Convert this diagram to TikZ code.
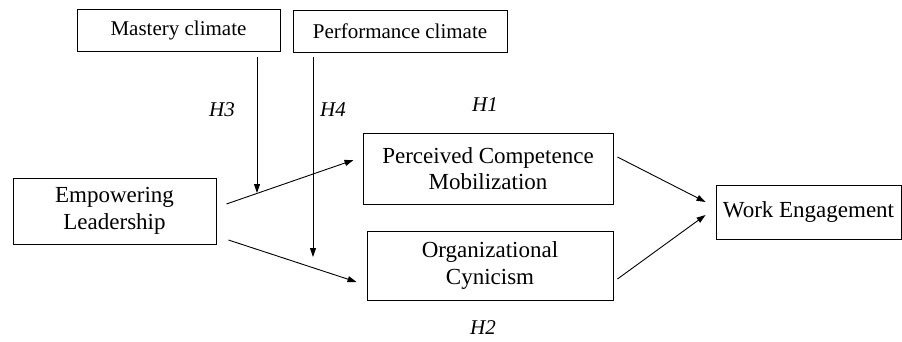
\documentclass[tikz,border=0pt]{standalone}
\usepackage{fontspec}
\setmainfont{Liberation Serif}
\usetikzlibrary{arrows.meta,calc}
\begin{document}
\begin{tikzpicture}[x=1pt,y=-1pt,
  box/.style={draw, line width=0.9pt, inner sep=0pt, align=center, font=\fontsize{23}{26.5}\selectfont},
  topbox/.style={box, font=\fontsize{21}{24}\selectfont},
  hlab/.style={font=\fontsize{21}{24}\selectfont\itshape, inner sep=0pt},
  conn/.style={line width=0.9pt, -{Triangle[length=9pt,width=6pt]}}]
\useasboundingbox (0,0) rectangle (902,342);
\node[topbox, minimum width=203pt, minimum height=42pt] (mastery) at (178.5,30.5) {Mastery climate};
\node[topbox, minimum width=214pt, minimum height=42pt] (perf) at (400,31) {Performance climate};
\node[box, minimum width=203pt, minimum height=66pt] (el) at (114.5,211) {Empowering\\Leadership};
\node[box, minimum width=250pt, minimum height=71pt] (pcm) at (488,168.5) {Perceived Competence\\Mobilization};
\node[box, minimum width=246pt, minimum height=69pt] (oc) at (490,265.5) {Organizational\\Cynicism};
\node[box, minimum width=185pt, minimum height=54pt] (we) at (808.5,212) {Work Engagement};
\node[hlab] (h3) at (222,110) {H3};
\node[hlab] (h4) at (333,110) {H4};
\node[hlab] (h1) at (485,105) {H1};
\node[hlab] (h2) at (483,328) {H2};
% moderator arrows
\coordinate (m1) at ($(mastery.south)+(78.5,5)$);
\coordinate (m2) at (257,193);
\coordinate (p1) at ($(perf.south)+(-87,5)$);
\coordinate (p2) at (313,257);
\draw[conn] (m1) -- (m2);
\draw[conn] (p1) -- (p2);
% main paths
\coordinate (e1) at ($(el.east)+(10,-7)$);
\coordinate (e2) at ($(el.east)+(12,29)$);
\coordinate (c1) at ($(pcm.west)+(-9,-8.5)$);
\coordinate (o1) at ($(oc.west)+(-10,16.5)$);
\coordinate (c2) at ($(pcm.east)+(4,-11.5)$);
\coordinate (o2) at ($(oc.east)+(4,13.5)$);
\coordinate (w1) at ($(we.west)+(-10,-10)$);
\coordinate (w2) at ($(we.west)+(-10,3)$);
\draw[conn] (e1) -- (c1);
\draw[conn] (e2) -- (o1);
\draw[conn] (c2) -- (w1);
\draw[conn] (o2) -- (w2);
\end{tikzpicture}
\end{document}
